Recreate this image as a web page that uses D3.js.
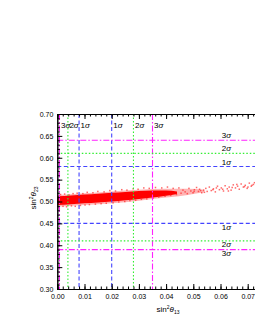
<html>
<head>
  <title>sin2 theta23 vs sin2 theta13</title>
  <script src="https://d3js.org/d3.v7.min.js"></script>
  <style>
    body { margin: 0; background: #fff; }
    text { font-family: "Liberation Sans", Arial, sans-serif; }
  </style>
</head>
<body>
<script>
  // axis ticks
  var xTicks = [0.00, 0.01, 0.02, 0.03, 0.04, 0.05, 0.06, 0.07]
  var yTicks = [0.30, 0.35, 0.40, 0.45, 0.50, 0.55, 0.60, 0.65, 0.70]

  // sigma bounds for sin2 theta13 (vertical) and sin2 theta23 (horizontal)
  var vLines = [
    { v: 0.0008, s: '3', c: 'm' }, { v: 0.0039, s: '2', c: 'g' }, { v: 0.0080, s: '1', c: 'b' },
    { v: 0.0200, s: '1', c: 'b' }, { v: 0.0280, s: '2', c: 'g' }, { v: 0.0350, s: '3', c: 'm' }
  ]
  var hLines = [
    { v: 0.640, s: '3', c: 'm', up: true }, { v: 0.610, s: '2', c: 'g', up: true }, { v: 0.580, s: '1', c: 'b', up: true },
    { v: 0.450, s: '1', c: 'b', up: false }, { v: 0.410, s: '2', c: 'g', up: false }, { v: 0.390, s: '3', c: 'm', up: false }
  ]

  // dense core of the scan
  var coreX    = [0.000, 0.005, 0.010, 0.015, 0.020, 0.025, 0.030, 0.035, 0.040, 0.044]
  var coreLow  = [0.492, 0.494, 0.496, 0.498, 0.500, 0.503, 0.506, 0.509, 0.513, 0.517]
  var coreHigh = [0.512, 0.514, 0.516, 0.518, 0.520, 0.522, 0.524, 0.525, 0.525, 0.523]

  // thinner halo round the core
  var haloX    = [0.000, 0.010, 0.020, 0.030, 0.040, 0.048, 0.054]
  var haloLow  = [0.488, 0.492, 0.496, 0.502, 0.509, 0.515, 0.521]
  var haloHigh = [0.515, 0.519, 0.523, 0.527, 0.529, 0.529, 0.527]

  // sparse points around the core
  var dots = [
    [0.0006,0.487],[0.0012,0.516],[0.0021,0.489],[0.0027,0.517],[0.0034,0.488],[0.0043,0.515],[0.0052,0.490],
    [0.0058,0.518],[0.0066,0.489],[0.0073,0.519],[0.0085,0.491],[0.0094,0.518],[0.0102,0.492],[0.0110,0.521],
    [0.0118,0.493],[0.0131,0.520],[0.0140,0.494],[0.0149,0.523],[0.0161,0.495],[0.0172,0.522],[0.0180,0.496],
    [0.0193,0.525],[0.0205,0.497],[0.0214,0.524],[0.0226,0.499],[0.0237,0.527],[0.0248,0.500],[0.0256,0.526],
    [0.0267,0.502],[0.0279,0.529],[0.0288,0.503],[0.0297,0.528],[0.0309,0.505],[0.0318,0.531],[0.0329,0.506],
    [0.0338,0.530],[0.0352,0.508],[0.0361,0.532],[0.0373,0.510],[0.0384,0.531],[0.0396,0.512],[0.0405,0.533],
    [0.0417,0.514],[0.0426,0.530],[0.0438,0.516],[0.0447,0.531],[0.0455,0.519],[0.0462,0.526],[0.0470,0.522],
    [0.0478,0.518],[0.0484,0.530],[0.0491,0.524],[0.0499,0.520],[0.0504,0.527],[0.0512,0.532],[0.0519,0.523],
    [0.0523,0.528],[0.0531,0.520],[0.0538,0.526],[0.0546,0.530],[0.0551,0.523],[0.0559,0.533],[0.0566,0.525],
    [0.0574,0.529],[0.0581,0.522],[0.0589,0.535],[0.0596,0.527],[0.0603,0.531],[0.0611,0.524],[0.0617,0.536],
    [0.0625,0.529],[0.0632,0.533],[0.0639,0.526],[0.0647,0.538],[0.0655,0.531],[0.0663,0.535],[0.0669,0.528],
    [0.0676,0.540],[0.0684,0.533],[0.0691,0.537],[0.0698,0.530],[0.0706,0.542],[0.0713,0.535],[0.0721,0.539],
    [0.0503,0.523],[0.0527,0.525],[0.0572,0.527],[0.0608,0.528],[0.0643,0.532],[0.0688,0.534],[0.0716,0.537],
    [0.0541,0.521],[0.0585,0.531],[0.0629,0.524],[0.0660,0.539],[0.0701,0.533],[0.0725,0.543]
  ]

  var colors = { m: '#ff22ff', g: '#33ee33', b: '#4444ff' }
  var dashes = { m: '6,2,1.5,2', g: '1.5,2', b: '4,2.5' }

  var margin = { top: 114, left: 57.3 }
  var w = 204, h = 175

  var svg = d3.select('body').append('svg')
      .attr('width', 255).attr('height', 330)
  var g = svg.append('g')
      .attr('transform', 'translate(' + margin.left + ',' + margin.top + ')')

  var xScale = d3.scaleLinear().domain([0, 0.075]).range([0, w])
  var yScale = d3.scaleLinear().domain([0.30, 0.70]).range([h, 0])

  var band = d3.area()
      .curve(d3.curveMonotoneX)
      .x(function (d) { return xScale(d.x) })
      .y0(function (d) { return yScale(d.lo) })
      .y1(function (d) { return yScale(d.hi) })

  // scan points
  var halo = haloX.map(function (x, i) { return { x: x, lo: haloLow[i], hi: haloHigh[i] } })
  g.append('path')
      .datum(halo)
      .attr('fill', '#ff4040')
      .attr('opacity', 0.4)
      .attr('d', band)
  var core = coreX.map(function (x, i) { return { x: x, lo: coreLow[i], hi: coreHigh[i] } })
  g.append('path')
      .datum(core)
      .attr('fill', '#ff0000')
      .attr('d', band)
  g.selectAll('.dot')
      .data(dots)
      .enter()
    .append('rect')
      .attr('x', function (d) { return xScale(d[0]) - 0.75 })
      .attr('y', function (d) { return yScale(d[1]) - 0.75 })
      .attr('width', 1.5).attr('height', 1.5)
      .attr('fill', '#ff2a2a')
      .attr('opacity', 0.7)

  // sigma lines
  g.selectAll('.vline')
      .data(vLines)
      .enter()
    .append('line')
      .attr('x1', function (d) { return xScale(d.v) })
      .attr('x2', function (d) { return xScale(d.v) })
      .attr('y1', 0).attr('y2', h)
      .attr('stroke', function (d) { return colors[d.c] })
      .attr('stroke-dasharray', function (d) { return dashes[d.c] })
      .attr('stroke-width', 1.1)
  g.selectAll('.hline')
      .data(hLines)
      .enter()
    .append('line')
      .attr('x1', 0).attr('x2', w)
      .attr('y1', function (d) { return yScale(d.v) })
      .attr('y2', function (d) { return yScale(d.v) })
      .attr('stroke', function (d) { return colors[d.c] })
      .attr('stroke-dasharray', function (d) { return dashes[d.c] })
      .attr('stroke-width', 1.1)

  // sigma labels
  function sigma(sel) {
    sel.append('tspan').text(function (d) { return d.s })
    sel.append('tspan').style('font-style', 'italic').text('σ')
  }
  g.selectAll('.vlab')
      .data(vLines)
      .enter()
    .append('text')
      .attr('x', function (d) { return xScale(d.v) + 1.5 })
      .attr('y', 14)
      .attr('font-size', 8)
      .call(sigma)
  g.selectAll('.hlab')
      .data(hLines)
      .enter()
    .append('text')
      .attr('x', 164.5)
      .attr('y', function (d) { return yScale(d.v) + (d.up ? -2 : 6.5) })
      .attr('font-size', 8)
      .call(sigma)

  // axes
  var axisStyle = function (a) {
    a.selectAll('path').attr('stroke', '#000').attr('stroke-width', 1)
    a.selectAll('line').attr('stroke', '#000')
    a.selectAll('text').attr('font-size', 7).attr('fill', '#000')
      .style('font-family', '"Liberation Sans", Arial, sans-serif')
  }
  var fmt = d3.format('.2f')
  g.append('g')
      .call(d3.axisLeft(yScale).tickValues(d3.range(30, 71, 1).map(function (v) { return v / 100 }))
        .tickSize(-2.5).tickFormat(''))
      .call(axisStyle)
  g.append('g')
      .call(d3.axisLeft(yScale).tickValues(yTicks).tickSize(-5).tickPadding(4).tickFormat(fmt))
      .call(axisStyle)
  g.append('g')
      .attr('transform', 'translate(0,' + h + ')')
      .call(d3.axisBottom(xScale).tickValues(d3.range(0, 38, 1).map(function (v) { return v / 500 }))
        .tickSize(-2.5).tickFormat(''))
      .call(axisStyle)
  g.append('g')
      .attr('transform', 'translate(0,' + h + ')')
      .call(d3.axisBottom(xScale).tickValues(xTicks).tickSize(-5).tickPadding(5).tickFormat(fmt))
      .call(axisStyle)
  g.append('g')
      .call(d3.axisTop(xScale).tickValues(d3.range(0, 38, 1).map(function (v) { return v / 500 }))
        .tickSize(-2.5).tickFormat(''))
      .call(axisStyle)
  g.append('g')
      .call(d3.axisTop(xScale).tickValues(xTicks).tickSize(-5).tickFormat(''))
      .call(axisStyle)

  // axis titles
  var xl = svg.append('text')
      .attr('x', 168).attr('y', 312)
      .attr('text-anchor', 'middle')
      .attr('font-size', 8)
  xl.append('tspan').text('sin')
  xl.append('tspan').attr('dy', -3).attr('font-size', 5).text('2')
  xl.append('tspan').attr('dy', 3).style('font-style', 'italic').text('θ')
  xl.append('tspan').attr('dy', 2).attr('font-size', 5).text('13')

  var yl = svg.append('text')
      .attr('transform', 'translate(36,198) rotate(-90)')
      .attr('text-anchor', 'middle')
      .attr('font-size', 8)
  yl.append('tspan').text('sin')
  yl.append('tspan').attr('dy', -3).attr('font-size', 5).text('2')
  yl.append('tspan').attr('dy', 3).style('font-style', 'italic').text('θ')
  yl.append('tspan').attr('dy', 2).attr('font-size', 5).text('23')
</script>
</body>
</html>
